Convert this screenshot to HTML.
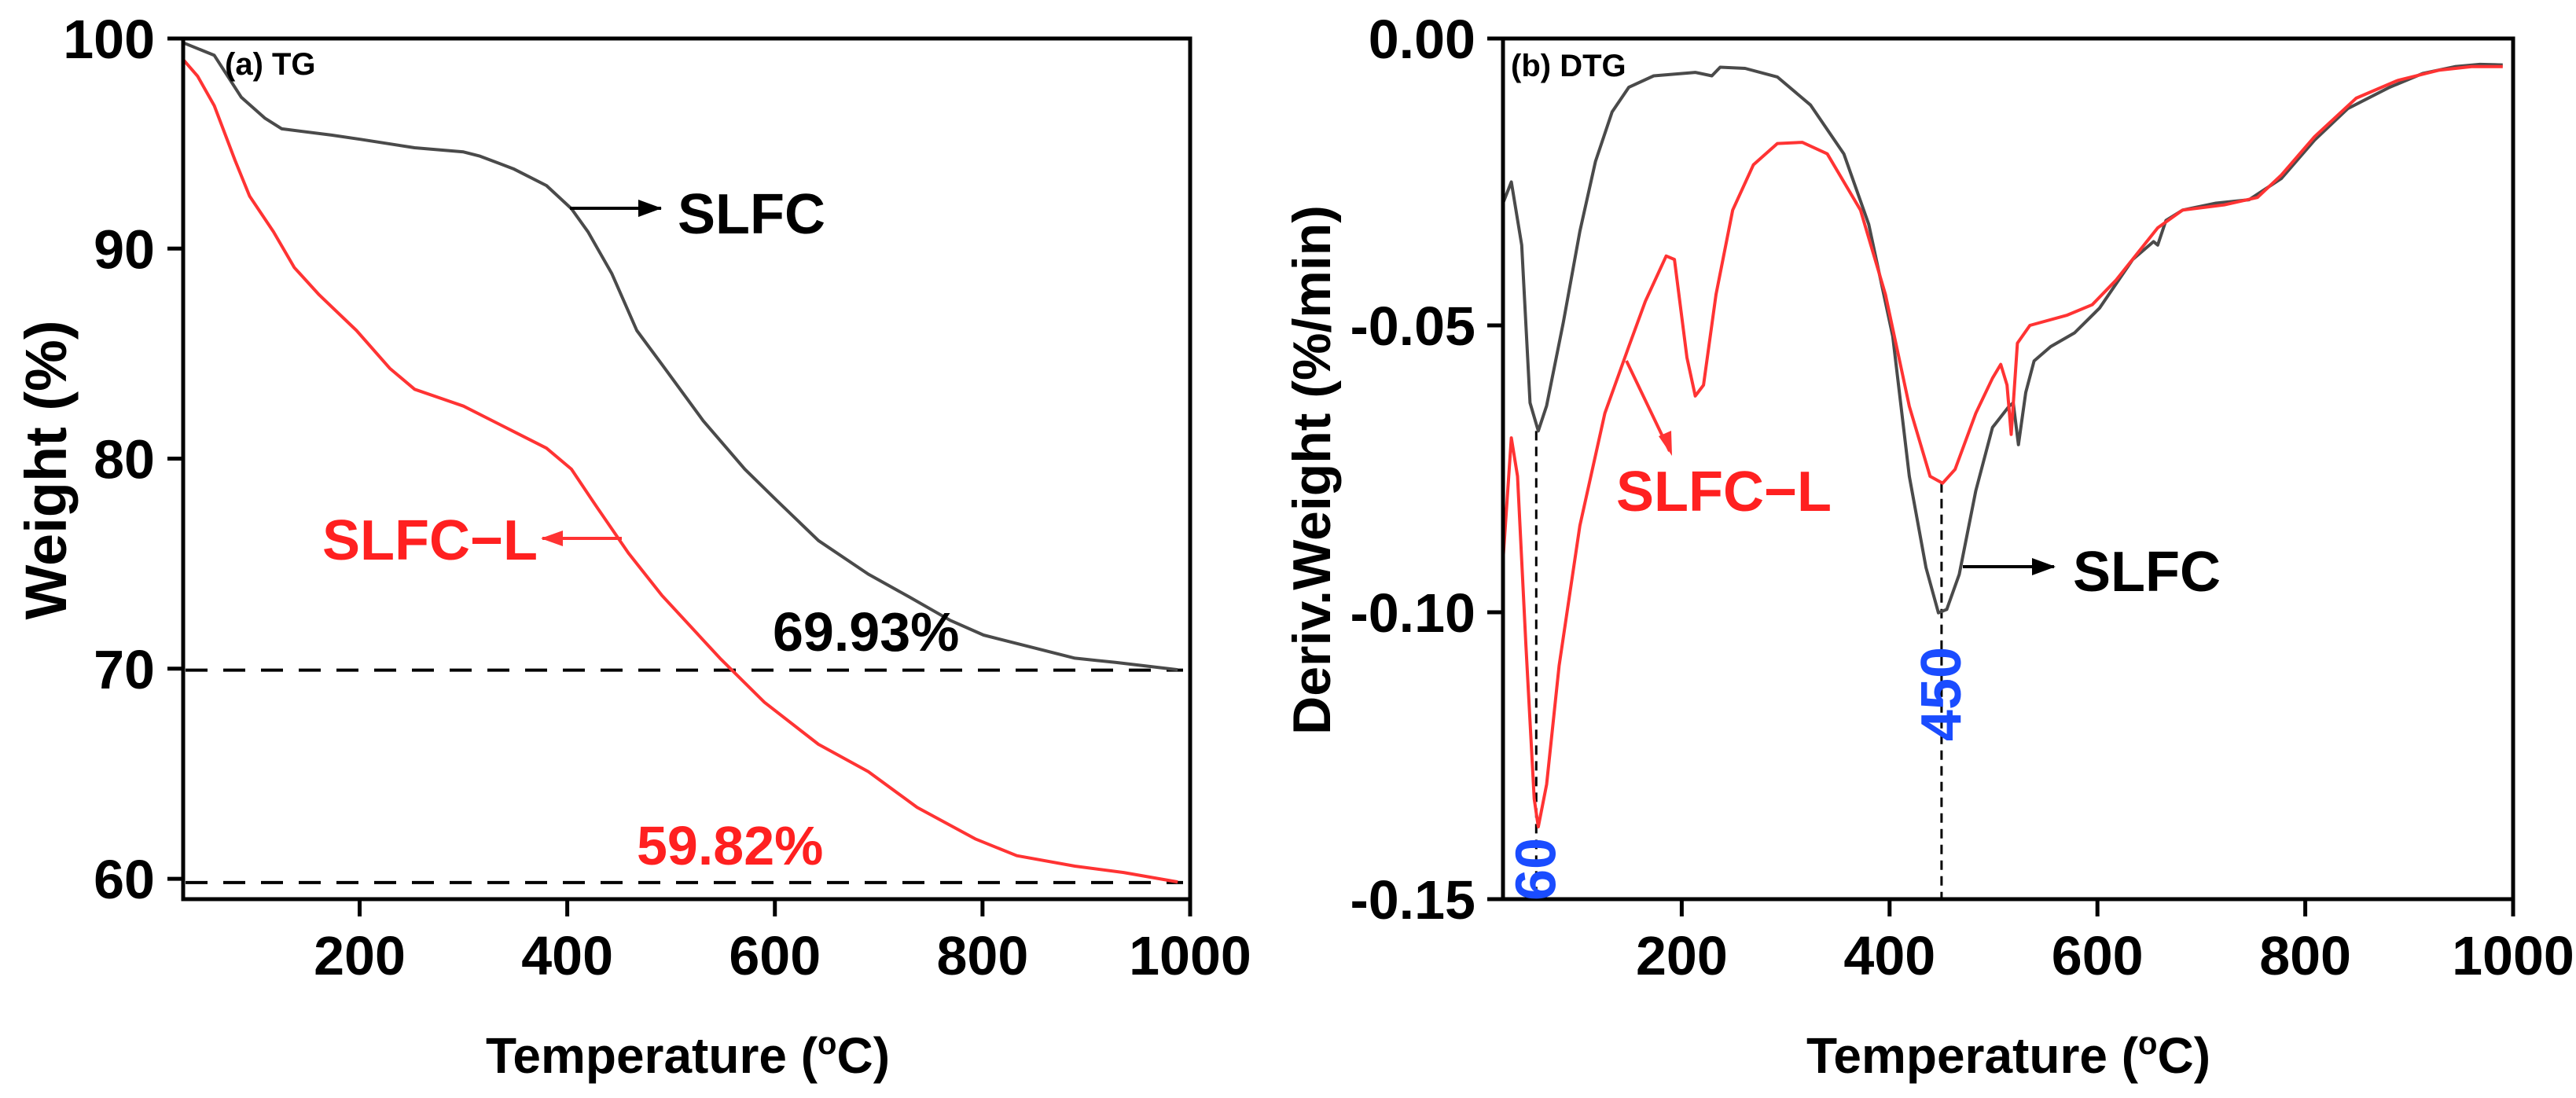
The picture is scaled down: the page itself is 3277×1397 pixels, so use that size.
<!DOCTYPE html>
<html><head><meta charset="utf-8"><style>
html,body{margin:0;padding:0;background:#fff;}
svg{display:block;font-family:"Liberation Sans",Arial,sans-serif;font-weight:bold;}
</style></head><body>
<svg id="fig" width="3277" height="1397" viewBox="0 0 3277 1397">
<g id="pa"></g>
<g id="pb"></g>
</svg>
<script>
// ---- Panel (a) TG data ----
const tgSlfcT = [30,60,86,109,125,173,201,253,300,316,348,380,404,420,443,467,491,531,571,602,642,690,730,769,801,849,889,928,988];
const tgSlfcW = [99.8,99.2,97.2,96.2,95.7,95.4,95.2,94.8,94.6,94.4,93.8,93.0,91.9,90.8,88.8,86.1,84.5,81.8,79.5,78.0,76.1,74.5,73.4,72.3,71.6,71.0,70.5,70.3,69.95];
const tgLT = [30,44,60,80,94,117,137,161,197,229,253,300,348,380,404,427,459,491,547,590,642,690,737,793,833,889,936,988];
const tgLW = [99.0,98.2,96.8,94.2,92.5,90.8,89.1,87.8,86.1,84.3,83.3,82.5,81.3,80.5,79.5,77.8,75.5,73.5,70.5,68.4,66.4,65.1,63.4,61.9,61.1,60.6,60.3,59.85];
const tgXTicks = [200,400,600,800,1000];
const tgYTicks = [60,70,80,90,100];
const tgRefLines = [69.93,59.82];
// ---- Panel (b) DTG data ----
const dtgSlfcT = [28,36,46,54,62,70,86,102,117,133,149,173,213,229,237,261,292,324,356,380,403,419,435,447,455,467,483,499,515,519,524,531,539,555,578,602,634,654,658,666,682,714,746,777,809,841,881,913,944,968,990];
const dtgSlfcD = [-0.0287,-0.025,-0.036,-0.0635,-0.0684,-0.064,-0.0495,-0.0336,-0.0214,-0.0128,-0.0085,-0.0065,-0.0059,-0.0065,-0.005,-0.0052,-0.0067,-0.0116,-0.0201,-0.0324,-0.0519,-0.0763,-0.0922,-0.1001,-0.0995,-0.0934,-0.0788,-0.0678,-0.0641,-0.0635,-0.0708,-0.0617,-0.0562,-0.0537,-0.0513,-0.047,-0.0385,-0.0354,-0.036,-0.0317,-0.0299,-0.0287,-0.0281,-0.0244,-0.0177,-0.0122,-0.0085,-0.0061,-0.0049,-0.0045,-0.0046];
const dtgLT = [28,36,42,50,58,62,70,82,102,126,149,165,185,193,205,213,221,233,249,269,292,316,340,372,396,419,439,451,463,483,499,507,513,517,523,535,571,595,618,658,682,722,754,777,809,849,889,929,960,990];
const dtgLD = [-0.091,-0.0696,-0.0763,-0.1056,-0.1325,-0.1374,-0.130,-0.1093,-0.0849,-0.0653,-0.0537,-0.0458,-0.0379,-0.0385,-0.0556,-0.0623,-0.0604,-0.0446,-0.0299,-0.022,-0.0183,-0.0181,-0.0201,-0.0299,-0.0446,-0.0641,-0.0763,-0.0775,-0.0751,-0.0653,-0.0592,-0.0568,-0.0604,-0.069,-0.0531,-0.05,-0.0482,-0.0464,-0.0421,-0.033,-0.0299,-0.029,-0.0277,-0.0238,-0.0171,-0.0104,-0.0073,-0.0055,-0.0049,-0.0049,-0.0051];
const dtgXTicks = [200,400,600,800,1000];
const dtgYTicks = [0,-0.05,-0.10,-0.15];
const dtgYLabels = ["0.00","-0.05","-0.10","-0.15"];
const dtgPeakT = [60,450];
const dtgPeakTop = [-0.0684,-0.0775];

const NS="http://www.w3.org/2000/svg";
function mk(parent,tag,attrs,text){const e=document.createElementNS(NS,tag);for(const k in attrs)e.setAttribute(k,attrs[k]);if(text!==undefined)e.textContent=text;parent.appendChild(e);return e;}
function lin(d0,d1,r0,r1){return v=>r0+(v-d0)/(d1-d0)*(r1-r0);}
function pathD(xs,ys,sx,sy){return xs.map((t,i)=>(i?'L':'M')+sx(t).toFixed(1)+' '+sy(ys[i]).toFixed(1)).join(' ');}

// ===== Panel A =====
const A=document.getElementById('pa');
const ax=lin(30,1000,233,1514), ay=lin(59.03,100,1144,49);
tgRefLines.forEach((v,i)=>{
  const l=mk(A,'line',{x1:236,x2:1505,y1:ay(v),y2:ay(v),stroke:'#000','stroke-width':4,'stroke-dasharray':'28,20'});
  
  
});
const pa1=mk(A,'path',{d:pathD(tgSlfcT,tgSlfcW,ax,ay),fill:'none',stroke:'#4a4a4a','stroke-width':4,'stroke-linejoin':'round'});


const pa2=mk(A,'path',{d:pathD(tgLT,tgLW,ax,ay),fill:'none',stroke:'#ff3333','stroke-width':4,'stroke-linejoin':'round'});


const fa=mk(A,'rect',{x:233,y:49,width:1281,height:1095,fill:'none',stroke:'#000','stroke-width':5});


tgXTicks.forEach(t=>{
  mk(A,'line',{x1:ax(t),x2:ax(t),y1:1144,y2:1166,stroke:'#000','stroke-width':5});
  const tx=mk(A,'text',{x:ax(t),y:1240,'font-size':70,'text-anchor':'middle'},String(t));
  
  
});
tgYTicks.forEach(t=>{
  mk(A,'line',{x1:213,x2:233,y1:ay(t),y2:ay(t),stroke:'#000','stroke-width':5});
  const tx=mk(A,'text',{x:197,y:ay(t)+25,'font-size':70,'text-anchor':'end'},String(t));
  
  
});
// ===== Panel B =====
const B=document.getElementById('pb');
const bx=lin(28,1000,1912,3197), by=lin(-0.15,0,1144,49);
dtgPeakT.forEach((t,i)=>{
  const l=mk(B,'line',{x1:bx(t),x2:bx(t),y1:by(dtgPeakTop[i]),y2:1144,stroke:'#000','stroke-width':3,'stroke-dasharray':'12,8'});
  
  
});
const pb1=mk(B,'path',{d:pathD(dtgSlfcT,dtgSlfcD,bx,by),fill:'none',stroke:'#4a4a4a','stroke-width':4,'stroke-linejoin':'round'});


const pb2=mk(B,'path',{d:pathD(dtgLT,dtgLD,bx,by),fill:'none',stroke:'#ff3333','stroke-width':4,'stroke-linejoin':'round'});


const fb=mk(B,'rect',{x:1912,y:49,width:1285,height:1095,fill:'none',stroke:'#000','stroke-width':5});


dtgXTicks.forEach(t=>{
  mk(B,'line',{x1:bx(t),x2:bx(t),y1:1144,y2:1166,stroke:'#000','stroke-width':5});
  const tx=mk(B,'text',{x:bx(t),y:1240,'font-size':70,'text-anchor':'middle'},String(t));
  
  
});
dtgYTicks.forEach((t,i)=>{
  mk(B,'line',{x1:1892,x2:1912,y1:by(t),y2:by(t),stroke:'#000','stroke-width':5});
  const tx=mk(B,'text',{x:1877,y:by(t)+25,'font-size':70,'text-anchor':'end'},dtgYLabels[i]);
  
  
});
dtgPeakT.forEach((t,i)=>{
  const cy = i===0 ? 1106 : 883;
  const tx=mk(B,'text',{x:0,y:0,'font-size':72,fill:'#1a4cff','text-anchor':'middle',transform:`translate(${bx(t)+24},${cy}) rotate(-90)`},String(t));
  
  
});
</script>
<!-- static annotations -->
<svg width="3277" height="1397" viewBox="0 0 3277 1397" style="position:absolute;left:0;top:0;font-family:'Liberation Sans',Arial,sans-serif;font-weight:bold;">
<defs>
<marker id="ak" markerWidth="10" markerHeight="8" refX="9" refY="4" orient="auto" markerUnits="userSpaceOnUse" viewBox="0 0 10 8"><path d="M0 0L10 4L0 8z" fill="#000"/></marker>
<marker id="ar" markerWidth="10" markerHeight="8" refX="9" refY="4" orient="auto" viewBox="0 0 10 8" markerUnits="userSpaceOnUse"><path d="M0 0L10 4L0 8z" fill="#ff3333"/></marker>
</defs>
<text x="286" y="95" font-size="40">(a) TG</text>
<text x="1922" y="97" font-size="40">(b) DTG</text>
<line x1="725" y1="265" x2="841" y2="265" stroke="#000" stroke-width="4"/>
<path d="M812 254L842 265L812 276z" fill="#000"/>
<text x="862" y="297" font-size="72">SLFC</text>
<line x1="791" y1="685" x2="690" y2="685" stroke="#ff3333" stroke-width="4"/>
<path d="M716 675L688 685L716 695z" fill="#ff3333"/>
<text x="410" y="712" font-size="72" fill="#ff2020">SLFC−L</text>
<text x="983" y="828" font-size="70">69.93%</text>
<text x="810" y="1100" font-size="70" fill="#ff2020">59.82%</text>
<line x1="2069" y1="459" x2="2124" y2="574" stroke="#ff3333" stroke-width="4"/>
<path d="M2110 555L2127 580L2126 548z" fill="#ff3333"/>
<text x="2056" y="650" font-size="72" fill="#ff2020">SLFC−L</text>
<line x1="2497" y1="721" x2="2613" y2="721" stroke="#000" stroke-width="4"/>
<path d="M2585 710L2615 721L2585 732z" fill="#000"/>
<text x="2637" y="752" font-size="72">SLFC</text>
<text transform="translate(84,598) rotate(-90)" font-size="74" text-anchor="middle">Weight (%)</text>
<text transform="translate(1692,598) rotate(-90)" font-size="68" text-anchor="middle">Deriv.Weight (%/min)</text>
<text x="875" y="1365" font-size="64" text-anchor="middle">Temperature (<tspan dy="-24" font-size="40">o</tspan><tspan dy="24">C)</tspan></text>
<text x="2555" y="1365" font-size="64" text-anchor="middle">Temperature (<tspan dy="-24" font-size="40">o</tspan><tspan dy="24">C)</tspan></text>
</svg>
</body></html>
